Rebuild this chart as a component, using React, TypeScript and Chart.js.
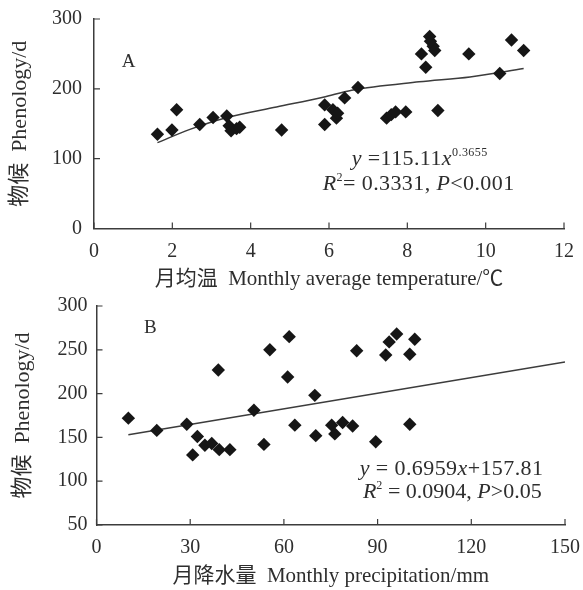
import React, { useEffect, useRef } from "react";
import { Chart, registerables } from "chart.js";

Chart.register(...registerables);

// Panel A: monthly mean temperature (°C) against phenology length (d)
const tempX = [1.62, 1.99, 2.11, 2.7, 3.04, 3.39, 3.45, 3.5, 3.64, 3.72, 4.79, 5.89, 5.89, 6.1, 6.19, 6.22, 6.4, 6.74, 7.47, 7.59, 7.7, 7.96, 8.36, 8.47, 8.57, 8.59, 8.66, 8.7, 8.78, 9.57, 10.36, 10.66, 10.97];
const tempPheno = [135, 141, 170, 149, 159, 161, 147, 140, 143, 145, 141, 177, 149, 170, 158, 165, 187, 202, 158, 163, 167, 167, 250, 231, 275, 268, 261, 255, 169, 250, 222, 270, 255];
// power-law trend line as plotted
const tempFitX = [1.62, 2.45, 3.4, 4.66, 5.85, 6.58, 8.3, 9.6, 10.97];
const tempFitY = [123, 142, 159, 174, 188, 198, 210, 217, 229];
const tempTicksX = { min: 0, max: 12, step: 2 };
const tempTicksY = { min: 0, max: 300, step: 100 };

// Panel B: monthly precipitation (mm) against phenology length (d)
const precipX = [10.2, 19.3, 28.9, 30.8, 32.3, 34.7, 36.9, 39, 39.3, 42.7, 50.4, 53.6, 55.5, 61.7, 61.2, 63.5, 69.9, 70.2, 75.3, 76.3, 78.8, 82, 83.3, 89.4, 92.6, 93.7, 96.1, 100.3, 100.3, 101.9];
const precipPheno = [172, 158, 165, 130, 151, 141, 143, 227, 136, 136, 181, 142, 250, 265, 219, 164, 198, 152, 164, 154, 167, 163, 249, 145, 244, 259, 268, 245, 165, 262];
// linear trend line as plotted
const precipFitX = [10.2, 150];
const precipFitY = [153, 236];
const precipTicksX = { min: 0, max: 150, step: 30 };
const precipTicksY = { min: 50, max: 300, step: 50 };

const SERIF = "'Liberation Serif', 'Noto Sans CJK SC', serif";
const TEXT = "#2e2e2e";
const AXIS = "#3c3c3c";
const MARK = "#161616";

type Run = { text: string; italic?: boolean; sup?: boolean };
type Note = { x: number; y: number; size: number; spacing?: number; runs: Run[] };

const notesPlugin = (items: Note[]) => ({
  id: "notes",
  afterDatasetsDraw(chart: any) {
    const { ctx, scales } = chart;
    ctx.save();
    ctx.fillStyle = TEXT;
    ctx.textAlign = "left";
    ctx.textBaseline = "alphabetic";
    for (const note of items) {
      let px = scales.x.getPixelForValue(note.x);
      const py = scales.y.getPixelForValue(note.y);
      (ctx as any).letterSpacing = `${note.spacing ?? 0}px`;
      for (const r of note.runs) {
        const size = r.sup ? note.size * 0.55 : note.size;
        ctx.font = `${r.italic ? "italic " : ""}${size}px ${SERIF}`;
        ctx.fillText(r.text, px, r.sup ? py - note.size * 0.42 : py);
        px += ctx.measureText(r.text).width;
      }
    }
    (ctx as any).letterSpacing = "0px";
    ctx.restore();
  },
});

// tick marks drawn on the inner side of both axes
const inwardTicks = {
  id: "inwardTicks",
  afterDraw(chart: any) {
    const { ctx, chartArea, scales } = chart;
    ctx.save();
    ctx.strokeStyle = AXIS;
    ctx.lineWidth = 1.2;
    ctx.beginPath();
    scales.x.ticks.forEach((_t: any, i: number) => {
      const p = scales.x.getPixelForTick(i);
      ctx.moveTo(p, chartArea.bottom);
      ctx.lineTo(p, chartArea.bottom - 6);
    });
    scales.y.ticks.forEach((_t: any, i: number) => {
      const p = scales.y.getPixelForTick(i);
      ctx.moveTo(chartArea.left, p);
      ctx.lineTo(chartArea.left + 6, p);
    });
    ctx.stroke();
    ctx.restore();
  },
};

type PanelProps = {
  height: number;
  xs: number[];
  ys: number[];
  fitX: number[];
  fitY: number[];
  xRange: { min: number; max: number; step: number };
  yRange: { min: number; max: number; step: number };
  xTitle: string;
  yTitle: string;
  area: { left: number; right: number; top: number; bottom: number };
  yLabelPad: number;
  yTitlePad: number;
  xTitlePad: number;
  tension: number;
  notes: Note[];
};

function Panel(p: PanelProps) {
  const ref = useRef<HTMLCanvasElement>(null);
  useEffect(() => {
    const canvas = ref.current;
    if (!canvas) return;
    const tickFont = { family: SERIF, size: 20 };
    const chart = new Chart(canvas, {
      type: "scatter",
      data: {
        datasets: [
          {
            data: p.xs.map((x, i) => ({ x, y: p.ys[i] })),
            pointStyle: "rectRot",
            pointRadius: 6.7,
            backgroundColor: MARK,
            borderColor: MARK,
            borderWidth: 0,
            order: 1,
          },
          {
            data: p.fitX.map((x, i) => ({ x, y: p.fitY[i] })),
            showLine: true,
            pointRadius: 0,
            borderColor: AXIS,
            borderWidth: 1.5,
            tension: p.tension,
            cubicInterpolationMode: "monotone",
            order: 2,
          },
        ],
      },
      options: {
        animation: false,
        responsive: false,
        events: [],
        layout: {
          autoPadding: false,
          padding: {
            left: 0,
            top: p.area.top,
            right: 583 - p.area.right,
            bottom: 0,
          },
        },
        plugins: {
          legend: { display: false },
          tooltip: { enabled: false },
        },
        scales: {
          x: {
            type: "linear",
            min: p.xRange.min,
            max: p.xRange.max,
            ticks: { stepSize: p.xRange.step, font: tickFont, color: TEXT, padding: 11 },
            grid: { display: false, drawTicks: false },
            border: { display: true, color: AXIS, width: 1.5 },
            title: {
              display: true,
              text: p.xTitle,
              font: { family: SERIF, size: 21 },
              color: TEXT,
              padding: { top: 0, bottom: p.xTitlePad },
            },
            afterFit: (s: any) => {
              s.height = p.height - p.area.bottom;
              s.paddingLeft = 0;
              s.paddingRight = 0;
            },
          },
          y: {
            type: "linear",
            min: p.yRange.min,
            max: p.yRange.max,
            ticks: { stepSize: p.yRange.step, font: tickFont, color: TEXT, padding: p.yLabelPad },
            grid: { display: false, drawTicks: false },
            border: { display: true, color: AXIS, width: 1.5 },
            title: {
              display: true,
              text: p.yTitle,
              font: { family: SERIF, size: 22 },
              color: TEXT,
              padding: { top: p.yTitlePad, bottom: 0 },
            },
            afterFit: (s: any) => {
              s.width = p.area.left;
              s.paddingTop = 0;
              s.paddingBottom = 0;
            },
          },
        },
      },
      plugins: [inwardTicks, notesPlugin(p.notes)],
    } as any);
    return () => chart.destroy();
  }, []);
  return (
    <canvas
      ref={ref}
      width={583}
      height={p.height}
      style={{ display: "block", width: 583, height: p.height }}
    />
  );
}

export default function App() {
  return (
    <div style={{ position: "absolute", left: 0, top: 0, width: 583, height: 590, background: "#fff" }}>
      <Panel
        height={290}
        xs={tempX}
        ys={tempPheno}
        fitX={tempFitX}
        fitY={tempFitY}
        xRange={tempTicksX}
        yRange={tempTicksY}
        xTitle="月均温  Monthly average temperature/℃"
        yTitle="物候  Phenology/d"
        area={{ left: 94, right: 564, top: 19, bottom: 228.5 }}
        yLabelPad={12}
        yTitlePad={7}
        xTitlePad={-2}
        tension={0.3}
        notes={[
          { x: 0.71, y: 230.8, size: 19, runs: [{ text: "A" }] },
          {
            x: 6.58,
            y: 91,
            size: 22,
            spacing: 0.4,
            runs: [
              { text: "y", italic: true },
              { text: " =115.11" },
              { text: "x", italic: true },
              { text: "0.3655", sup: true },
            ],
          },
          {
            x: 5.84,
            y: 55.2,
            size: 22,
            spacing: 0.4,
            runs: [
              { text: "R", italic: true },
              { text: "2", sup: true },
              { text: "= 0.3331, " },
              { text: "P", italic: true },
              { text: "<0.001" },
            ],
          },
        ]}
      />
      <Panel
        height={300}
        xs={precipX}
        ys={precipPheno}
        fitX={precipFitX}
        fitY={precipFitY}
        xRange={precipTicksX}
        yRange={precipTicksY}
        xTitle="月降水量  Monthly precipitation/mm"
        yTitle="物候  Phenology/d"
        area={{ left: 96.5, right: 565, top: 16, bottom: 235 }}
        yLabelPad={9}
        yTitlePad={10}
        xTitlePad={1}
        tension={0}
        notes={[
          { x: 15.2, y: 269, size: 19, runs: [{ text: "B" }] },
          {
            x: 84.3,
            y: 107,
            size: 22,
            spacing: 0.4,
            runs: [
              { text: "y", italic: true },
              { text: " = 0.6959" },
              { text: "x", italic: true },
              { text: "+157.81" },
            ],
          },
          {
            x: 85.3,
            y: 80.8,
            size: 22,
            spacing: 0,
            runs: [
              { text: "R", italic: true },
              { text: "2", sup: true },
              { text: " = 0.0904, " },
              { text: "P", italic: true },
              { text: ">0.05" },
            ],
          },
        ]}
      />
    </div>
  );
}
